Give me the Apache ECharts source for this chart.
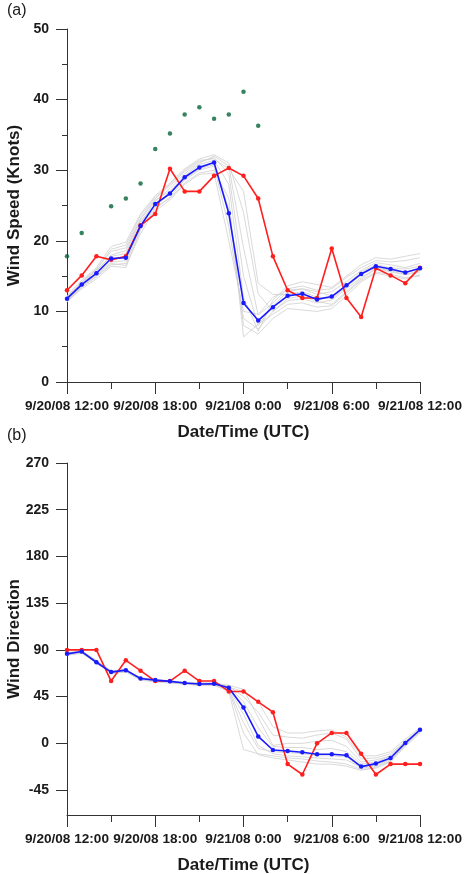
<!DOCTYPE html>
<html>
<head>
<meta charset="utf-8">
<script src="https://cdn.jsdelivr.net/npm/echarts@6/dist/echarts.min.js"></script>
<style>
  html, body { margin: 0; padding: 0; background: #fff; }
  #main { width: 468px; height: 874px; }
</style>
</head>
<body>
<div id="main"></div>
<script>
var FONT = '"Liberation Sans", Arial, sans-serif';

var hours = [0, 1, 2, 3, 4, 5, 6, 7, 8, 9, 10, 11, 12, 13, 14, 15, 16, 17, 18, 19, 20, 21, 22, 23, 24];
var timeLabels = ['9/20/08 12:00', '9/20/08 18:00', '9/21/08 0:00', '9/21/08 6:00', '9/21/08 12:00'];
var speedTicks = [0, 10, 20, 30, 40, 50];
var dirTicks = [-45, 0, 45, 90, 135, 180, 225, 270];

// (a) wind speed, knots
var speedObs = [13.0, 15.1, 17.8, 17.3, 17.8, 22.2, 23.8, 30.2, 27.0, 27.0, 29.2, 30.3, 29.2, 26.0, 17.8, 13.0, 11.9, 11.9, 18.9, 11.9, 9.2, 16.1, 15.1, 14.0, 16.2];
var speedMean = [11.8, 13.8, 15.4, 17.5, 17.6, 22.1, 25.2, 26.7, 29.0, 30.4, 31.1, 23.9, 11.2, 8.7, 10.6, 12.2, 12.5, 11.7, 12.1, 13.7, 15.3, 16.4, 16.0, 15.5, 16.1];
var speedOther = [17.8, 21.1, null, 24.9, 26.0, 28.1, 33.0, 35.2, 37.9, 38.9, 37.3, 37.9, 41.1, 36.3, null, null, null, null, null, null, null, null, null, null, null];
var speedMembers = [
    [11.5, 13.5, 15.0, 16.8, 16.5, 21.0, 24.5, 26.2, 28.6, 30.0, 30.6, 22.0, 9.0, 7.5, 10.0, 11.5, 11.8, 11.2, 11.6, 13.2, 14.8, 16.0, 15.6, 15.2, 15.8],
    [12.0, 14.2, 16.0, 18.5, 19.0, 23.2, 26.0, 27.8, 29.8, 31.2, 31.8, 29.5, 15.0, 8.0, 10.8, 12.8, 13.2, 12.4, 12.8, 14.2, 15.8, 16.9, 16.6, 16.2, 16.8],
    [11.6, 13.6, 15.2, 17.0, 17.2, 22.5, 25.6, 27.4, 29.5, 31.0, 32.0, 30.6, 19.0, 9.5, 11.2, 13.2, 13.6, 13.0, 13.2, 14.8, 16.2, 17.2, 17.0, 17.2, 17.6],
    [11.4, 13.2, 14.6, 16.4, 16.2, 21.5, 24.8, 26.0, 28.2, 29.6, 30.0, 26.0, 6.4, 8.2, 9.6, 11.0, 11.2, 10.6, 10.8, 12.6, 14.4, 15.6, 15.2, 14.8, 15.0],
    [12.2, 14.4, 16.2, 19.2, 19.8, 23.8, 26.4, 28.2, 30.2, 31.6, 32.2, 31.0, 24.0, 12.5, 10.0, 11.8, 12.2, 11.4, 11.0, 12.8, 14.6, 16.0, 15.8, 15.6, 16.0],
    [11.9, 14.0, 15.8, 17.8, 18.2, 22.8, 25.0, 26.6, 28.8, 30.2, 30.8, 24.5, 8.0, 6.8, 9.0, 10.4, 10.2, 10.0, 10.4, 12.2, 14.2, 15.4, 15.0, 14.6, 15.2],
    [11.7, 13.9, 15.6, 18.0, 18.6, 23.0, 25.8, 27.0, 29.2, 30.8, 31.4, 28.0, 12.0, 7.2, 11.6, 13.6, 14.2, 13.8, 13.4, 15.0, 16.6, 17.6, 17.4, 17.8, 18.2],
    [11.3, 13.4, 14.9, 16.6, 16.8, 21.8, 24.2, 25.8, 28.0, 29.4, 29.6, 20.0, 10.0, 9.6, 12.0, 13.0, 13.2, 12.8, 12.2, 13.8, 15.6, 16.6, 16.2, 16.0, 16.4],
    [12.1, 14.1, 15.9, 18.8, 19.4, 23.6, 26.2, 28.0, 30.0, 31.4, 31.6, 30.2, 27.0, 14.0, 12.4, 12.4, 12.8, 12.0, 11.8, 13.4, 15.2, 16.2, 15.8, 15.2, 15.6]
];

// (b) wind direction, degrees
var dirObs = [90, 90, 90, 60, 80, 70, 60, 60, 70, 60, 60, 50, 50, 40, 30, -20, -30, 0, 10, 10, -10, -30, -20, -20, -20];
var dirMean = [86.2, 88.4, 78.1, 68.6, 70.5, 62.5, 60.9, 59.7, 58.1, 57.1, 57.4, 53.6, 34.5, 6.7, -6.4, -7.4, -8.6, -10.5, -10.5, -11.5, -22.4, -19.5, -14.1, 0.3, 13.1];
var dirMembers = [
    [85, 87, 77, 68, 69, 61, 60, 59, 57, 56, 56, 52, 20, -5, -8, -9, -10, -12, -12, -13, -24, -22, -16, -2, 11],
    [87, 89, 79, 70, 71, 63, 62, 60, 59, 58, 58, 55, 45, 30, 8, 6, 5, 8, 10, 4, -15, -14, -10, 2, 14],
    [86, 88, 78, 69, 70, 62, 61, 60, 58, 57, 57, 54, 50, 40, 16, 10, 10, 12, 13, 6, -12, -12, -8, 4, 15],
    [85, 87, 78, 67, 69, 61, 59, 58, 57, 56, 56, 50, -6, -10, -12, -14, -15, -17, -18, -20, -25, -24, -18, -3, 10],
    [87, 89, 80, 69, 71, 63, 61, 60, 58, 57, 58, 55, 40, 15, -3, -4, -4, -6, -5, -8, -20, -18, -12, 1, 12],
    [86, 88, 77, 68, 70, 62, 61, 59, 58, 57, 57, 52, 10, -11, -14, -16, -18, -20, -20, -22, -26, -23, -17, -1, 12],
    [86, 88, 79, 70, 71, 62, 61, 60, 58, 58, 58, 56, 52, 25, -2, 0, 0, 2, 3, -3, -18, -16, -12, 2, 13],
    [85, 87, 78, 68, 69, 62, 60, 59, 57, 57, 57, 53, 28, -2, -10, -12, -13, -14, -15, -16, -23, -21, -15, -1, 12]
];

function pairs(values) {
    var out = [];
    for (var i = 0; i < hours.length; i++) {
        if (values[i] !== null) out.push([hours[i], values[i]]);
    }
    return out;
}

var axisColor = '#333';
var labelStyle = { color: '#1a1a1a', fontFamily: FONT, fontWeight: 'bold', fontSize: 14 };
var nameStyle = { color: '#1a1a1a', fontFamily: FONT, fontWeight: 'bold', fontSize: 17 };

function timeAxis(gridIndex) {
    return {
        type: 'value',
        gridIndex: gridIndex,
        min: 0,
        max: 24,
        interval: 6,
        name: 'Date/Time (UTC)',
        nameLocation: 'middle',
        nameGap: 42,
        nameMoveOverlap: false,
        nameTextStyle: nameStyle,
        axisLine: { show: true, onZero: false, lineStyle: { color: axisColor, width: 1 } },
        axisTick: { show: true, length: 12, lineStyle: { color: axisColor } },
        minorTick: { show: true, splitNumber: 2, length: 7, lineStyle: { color: axisColor } },
        splitLine: { show: false },
        axisLabel: Object.assign({
            margin: 17,
            hideOverlap: false,
            showMinLabel: true,
            showMaxLabel: true,
            formatter: function (v) { return timeLabels[Math.round(v / 6)]; }
        }, labelStyle, { fontSize: 13.6 })
    };
}

function dirOrSpeedAxis(gridIndex, name) {
    return {
        type: 'value',
        gridIndex: gridIndex,
        name: name,
        nameLocation: 'middle',
        nameGap: 44,
        nameMoveOverlap: false,
        nameTextStyle: nameStyle,
        axisLine: { show: true, lineStyle: { color: axisColor, width: 1 } },
        axisTick: { show: true, length: 11, lineStyle: { color: axisColor } },
        splitLine: { show: false },
        axisLabel: Object.assign({ margin: 18 }, labelStyle)
    };
}

function lineSeries(name, values, color, xi, yi) {
    return {
        name: name,
        type: 'line',
        xAxisIndex: xi,
        yAxisIndex: yi,
        data: pairs(values),
        symbol: 'circle',
        symbolSize: 4.5,
        itemStyle: { color: color },
        lineStyle: { color: color, width: 1.6 },
        z: 5
    };
}

var series = [];
speedMembers.forEach(function (m, i) {
    series.push({
        name: 'member ' + (i + 1), type: 'line', xAxisIndex: 0, yAxisIndex: 0,
        data: pairs(m), symbol: 'none', lineStyle: { color: '#cfcfcf', width: 0.8 }, z: 2
    });
});
series.push(lineSeries('Observed', speedObs, '#ff1f1f', 0, 0));
series.push(lineSeries('Mean', speedMean, '#1a1aff', 0, 0));
series.push({
    name: 'Other', type: 'scatter', xAxisIndex: 0, yAxisIndex: 0,
    data: pairs(speedOther), symbolSize: 4.5, itemStyle: { color: '#056337' }, z: 6
});
dirMembers.forEach(function (m, i) {
    series.push({
        name: 'member ' + (i + 1), type: 'line', xAxisIndex: 1, yAxisIndex: 1,
        data: pairs(m), symbol: 'none', lineStyle: { color: '#cfcfcf', width: 0.8 }, z: 2
    });
});
series.push(lineSeries('Observed', dirObs, '#ff1f1f', 1, 1));
series.push(lineSeries('Mean', dirMean, '#1a1aff', 1, 1));

var speedAxis = dirOrSpeedAxis(0, 'Wind Speed (Knots)');
speedAxis.min = 0;
speedAxis.max = 50;
speedAxis.interval = 10;
speedAxis.minorTick = { show: true, splitNumber: 2, length: 5, lineStyle: { color: axisColor } };
speedAxis.axisLabel.customValues = speedTicks;

var dirAxis = dirOrSpeedAxis(1, 'Wind Direction');
dirAxis.min = -69;
dirAxis.max = 270;
dirAxis.axisTick.customValues = dirTicks;
dirAxis.axisLabel.customValues = dirTicks;

var myChart = echarts.init(document.getElementById('main'));
myChart.setOption({
    backgroundColor: '#fff',
    animation: false,
    textStyle: { fontFamily: FONT },
    graphic: [
        { type: 'text', left: 7, top: 3, style: { text: '(a)', font: '16px ' + FONT, fill: '#1a1a1a' } },
        { type: 'text', left: 7, top: 428, style: { text: '(b)', font: '16px ' + FONT, fill: '#1a1a1a' } }
    ],
    grid: [
        { left: 67, right: 48, top: 29, height: 353, containLabel: false, outerBoundsMode: 'none' },
        { left: 67, right: 48, top: 463, height: 352, containLabel: false, outerBoundsMode: 'none' }
    ],
    xAxis: [timeAxis(0), timeAxis(1)],
    yAxis: [speedAxis, dirAxis],
    series: series
});
</script>
</body>
</html>
